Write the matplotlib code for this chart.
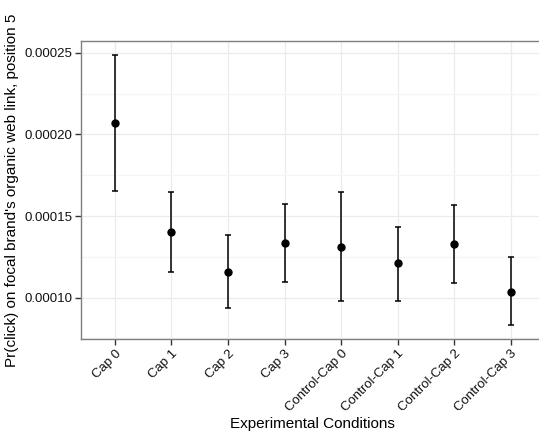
import matplotlib
matplotlib.use("Agg")
import matplotlib.pyplot as plt
from matplotlib.ticker import MultipleLocator
import numpy as np

plt.rcParams['font.family'] = ['Liberation Sans', 'DejaVu Sans']

conditions = ["Cap 0", "Cap 1", "Cap 2", "Cap 3",
              "Control-Cap 0", "Control-Cap 1", "Control-Cap 2", "Control-Cap 3"]
means = [0.0002070, 0.0001402, 0.0001157, 0.0001337,
         0.0001312, 0.0001209, 0.0001328, 0.0001037]
upper = [0.0002490, 0.0001647, 0.0001382, 0.0001573,
         0.0001645, 0.0001435, 0.0001565, 0.0001249]
lower = [0.0001654, 0.0001159, 0.0000937, 0.0001098,
         0.0000979, 0.0000981, 0.0001090, 0.0000829]

fig = plt.figure(figsize=(5.39, 4.33), dpi=100)
ax = fig.add_axes([81/539, 1 - 339/433, (544.6 - 81)/539, (339 - 41)/433])

x = np.arange(1, len(conditions) + 1)
m = np.array(means)
yerr = [m - np.array(lower), np.array(upper) - m]
ax.errorbar(x, m, yerr=yerr, fmt='o', color='black', ms=5,
            elinewidth=1.1, capsize=2, capthick=1.1, zorder=3)

# ggplot-like expansion
span = max(upper) - min(lower)
ax.set_ylim(min(lower) - 0.05*span, max(upper) + 0.05*span)
ax.set_xlim(0.4, len(conditions) + 0.6)

ax.set_xticks(x)
ax.set_xticklabels(conditions, rotation=45, ha='right', rotation_mode='anchor', fontsize=9)
ax.yaxis.set_major_locator(MultipleLocator(0.00005))
ax.yaxis.set_minor_locator(MultipleLocator(0.000025))
ax.yaxis.set_major_formatter(matplotlib.ticker.FormatStrFormatter('%.5f'))
ax.tick_params(axis='y', which='minor', length=0)
ax.tick_params(which='major', length=4, width=1, color='#333333', labelsize=9.5,
               labelcolor='#111111', pad=2)

ax.grid(True, which='major', color='#ebebeb', lw=0.9)
ax.grid(True, which='minor', axis='y', color='#f5f5f5', lw=0.9)
ax.set_axisbelow(True)
for s in ax.spines.values():
    s.set_color('#7f7f7f')
    s.set_linewidth(1)

ax.set_xlabel("Experimental Conditions", fontsize=11, labelpad=2)
ax.set_ylabel("Pr(click) on focal brand's organic web link, position 5", fontsize=11, labelpad=4)

fig.savefig("out.png", dpi=100)
